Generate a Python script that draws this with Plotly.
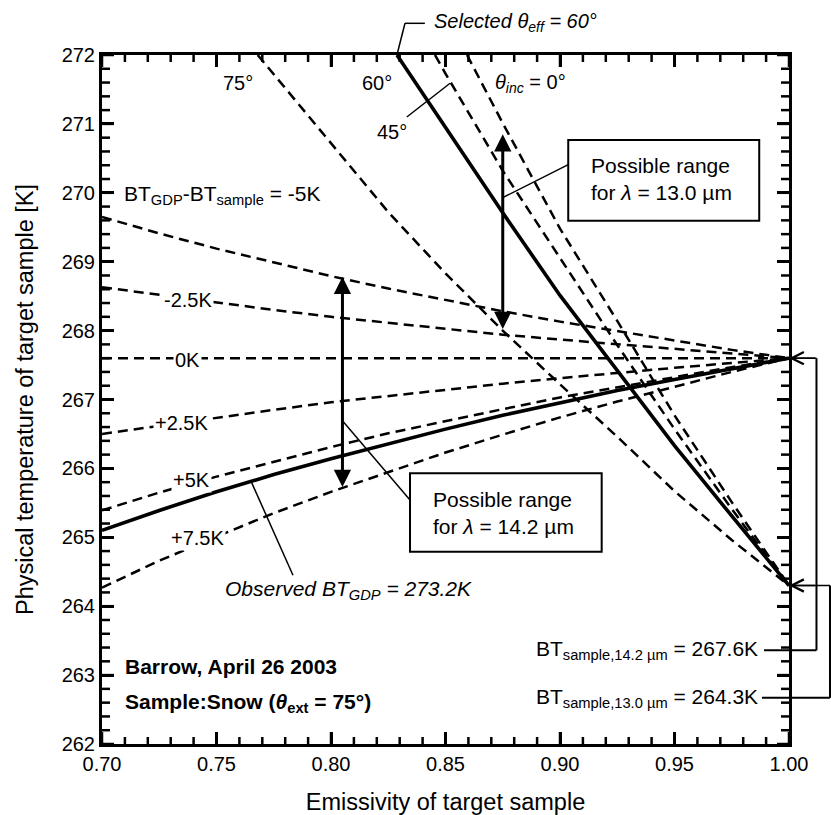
import plotly.graph_objects as go

# ---------------- data ----------------
eps = [0.70, 0.725, 0.75, 0.775, 0.80, 0.825, 0.85, 0.875, 0.90, 0.925, 0.95, 0.975, 1.00]

# BT_GDP - BT_sample families (converge to 267.6 K at emissivity 1)
diff_m5 = [269.65, 269.41, 269.19, 268.99, 268.79, 268.61, 268.44, 268.28, 268.13, 267.99, 267.85, 267.72, 267.60]
diff_m25 = [268.63, 268.52, 268.40, 268.30, 268.20, 268.11, 268.03, 267.94, 267.87, 267.80, 267.73, 267.66, 267.60]
diff_0 = [267.60] * 13
diff_p25 = [266.50, 266.62, 266.74, 266.85, 266.96, 267.05, 267.15, 267.23, 267.31, 267.39, 267.46, 267.53, 267.60]
diff_p5 = [265.39, 265.65, 265.88, 266.10, 266.31, 266.51, 266.69, 266.86, 267.03, 267.18, 267.33, 267.47, 267.60]
diff_p75 = [264.27, 264.66, 265.01, 265.35, 265.66, 265.95, 266.23, 266.49, 266.74, 266.97, 267.19, 267.40, 267.60]
observed = [265.10, 265.39, 265.66, 265.91, 266.14, 266.36, 266.57, 266.77, 266.95, 267.13, 267.29, 267.45, 267.60]

# incidence-angle family (converge to 264.3 K at emissivity 1)
ang75_x = [0.768, 0.775, 0.80, 0.825, 0.85, 0.875, 0.90, 0.925, 0.95, 0.975, 1.00]
ang75_y = [272.0, 271.72, 270.72, 269.72, 268.83, 268.00, 267.22, 266.46, 265.67, 264.96, 264.30]
ang60_x = [0.8288, 0.85, 0.875, 0.90, 0.925, 0.95, 0.975, 1.00]
ang60_y = [272.0, 270.94, 269.71, 268.51, 267.42, 266.33, 265.31, 264.30]
ang45_x = [0.8454, 0.85, 0.875, 0.90, 0.925, 0.95, 0.975, 1.00]
ang45_y = [272.0, 271.73, 270.32, 269.05, 267.79, 266.57, 265.41, 264.30]
ang0_x = [0.8594, 0.875, 0.90, 0.925, 0.95, 0.975, 1.00]
ang0_y = [272.0, 271.01, 269.48, 268.14, 266.77, 265.51, 264.30]

# possible-range arrows: [14.2 um, 13.0 um]
range_eps = [0.805, 0.875]
range_lo = [265.71, 268.00]
range_hi = [268.78, 270.85]

bt_sample = [267.6, 264.3]  # 14.2 um, 13.0 um

X_RANGE = [0.70, 1.00]
Y_RANGE = [262, 272]

# tick values
x_major_ticks = [0.70, 0.75, 0.80, 0.85, 0.90, 0.95, 1.00]
x_minor_ticks = [round(0.70 + 0.01 * i, 2) for i in range(31) if i % 5]
y_major_ticks = [262, 263, 264, 265, 266, 267, 268, 269, 270, 271, 272]
y_minor_ticks = [round(262 + 0.2 * i, 1) for i in range(51) if i % 5]

FONT = "Liberation Sans, Arial, Helvetica, sans-serif"
DASH = "10px,6px"

# plot-area size in pixels (for converting tick lengths)
MARGIN = dict(l=102, r=42, t=55, b=71)
PLOT_W = 831 - MARGIN["l"] - MARGIN["r"]
PLOT_H = 815 - MARGIN["t"] - MARGIN["b"]

fig = go.Figure()


def add_line(x, y, dashed=True, width=2.5):
    fig.add_trace(go.Scatter(
        x=x, y=y, mode="lines", showlegend=False, hoverinfo="skip",
        line=dict(color="black", width=width, dash=DASH if dashed else "solid")))


for ys in [diff_m5, diff_m25, diff_0, diff_p25, diff_p5, diff_p75]:
    add_line(eps, ys)
add_line(ang75_x, ang75_y)
add_line(ang45_x, ang45_y)
add_line(ang0_x, ang0_y)
add_line(eps, observed, dashed=False, width=3.6)
add_line(ang60_x, ang60_y, dashed=False, width=3.6)


# data -> paper helpers (for decorations that may sit outside the plot area)
def px_(x):
    return (x - X_RANGE[0]) / (X_RANGE[1] - X_RANGE[0])


def py_(y):
    return (y - Y_RANGE[0]) / (Y_RANGE[1] - Y_RANGE[0])


ann = []
shapes = []

# inward ticks on all four sides (drawn as shapes from the tick arrays)
for vals, ln in [(x_major_ticks, 12), (x_minor_ticks, 7)]:
    for v in vals:
        for base, sgn in [(0.0, 1), (1.0, -1)]:
            shapes.append(dict(type="line", xref="x", yref="paper", x0=v, x1=v,
                               y0=base, y1=base + sgn * ln / PLOT_H,
                               line=dict(color="black", width=2.5), layer="above"))
for vals, ln in [(y_major_ticks, 12), (y_minor_ticks, 8)]:
    for v in vals:
        for base, sgn in [(0.0, 1), (1.0, -1)]:
            shapes.append(dict(type="line", xref="paper", yref="y", y0=v, y1=v,
                               x0=base, x1=base + sgn * ln / PLOT_W,
                               line=dict(color="black", width=2.5), layer="above"))


def seg(x0, y0, x1, y1, width=1.5):
    shapes.append(dict(type="line", xref="paper", yref="paper",
                       x0=px_(x0), y0=py_(y0), x1=px_(x1), y1=py_(y1),
                       line=dict(color="black", width=width)))


def arrow(x0, y0, x1, y1, width=1.5, head=5, size=1.6):
    ann.append(dict(x=x1, y=y1, ax=x0, ay=y0, xref="x", yref="y", axref="x", ayref="y",
                    text="", showarrow=True, arrowhead=head, arrowwidth=width,
                    arrowsize=size, arrowcolor="black", standoff=0, startstandoff=0))


def label(x, y, text, size=20, xanchor="center", bg=None, paper=False, **kw):
    d = dict(x=px_(x) if paper else x, y=py_(y) if paper else y,
             xref="paper" if paper else "x", yref="paper" if paper else "y",
             text=text, showarrow=False,
             xanchor=xanchor, yanchor="middle", font=dict(size=size, color="black", family=FONT))
    if bg:
        d["bgcolor"] = bg
        d["borderpad"] = 1
    d.update(kw)
    ann.append(d)


# range arrows (double headed)
for e, lo, hi in zip(range_eps, range_lo, range_hi):
    ann.append(dict(x=e, y=hi, ax=e, ay=lo, xref="x", yref="y", axref="x", ayref="y",
                    text="", showarrow=True, arrowhead=2, startarrowhead=2,
                    arrowside="end+start", arrowwidth=3, arrowsize=1.15, startarrowsize=1.15,
                    arrowcolor="black", standoff=0, startstandoff=0))

# difference-family labels
label(0.7087, 269.97, "BT<sub>GDP</sub>-BT<sub>sample</sub> = -5K", size=21, xanchor="left")
label(0.7376, 268.44, "-2.5K", bg="white")
label(0.7375, 267.58, "0K", bg="white")
label(0.7345, 266.66, "+2.5K", bg="white")
label(0.739, 265.83, "+5K", bg="white")
label(0.7415, 264.99, "+7.5K", bg="white")

# angle labels
label(0.7592, 271.59, "75°")
label(0.8199, 271.59, "60°")
label(0.8266, 270.88, "45°")
label(0.8707, 271.59, "<i>θ<sub>inc</sub></i> = 0°", xanchor="left")
seg(0.8331, 271.10, 0.8520, 271.59)

# selected theta_eff leader (above the plot area)
seg(ang60_x[0], ang60_y[0], 0.8323, 272.46)
seg(0.8323, 272.46, 0.8410, 272.46)
label(0.8441, 272.47, "<i>Selected θ<sub>eff</sub> = 60°</i>", xanchor="left", paper=True)

# observed label and leader
label(0.7528, 264.24, "<i>Observed BT<sub>GDP</sub> = 273.2K</i>", size=21, xanchor="left")
seg(0.7834, 264.45, 0.7654, 265.79)

# possible-range boxes: (x0, x1, y0, y1, text_x, text_y, text)
boxes = [
    (0.9036, 0.9870, 269.595, 270.766, 0.9127, 270.20, "Possible range<br>for <i>λ</i> = 13.0 µm"),
    (0.8345, 0.9182, 264.791, 265.929, 0.8437, 265.36, "Possible range<br>for <i>λ</i> = 14.2 µm"),
]
for x0, x1, y0, y1, bx, by, txt in boxes:
    shapes.append(dict(type="rect", xref="x", yref="y", x0=x0, x1=x1, y0=y0, y1=y1,
                       line=dict(color="black", width=2), fillcolor="white", layer="above"))
    label(bx, by, txt, size=21, xanchor="left", align="left")
seg(0.9036, 270.41, range_eps[1], 269.93)
seg(0.8345, 265.54, range_eps[0], 266.69)

# BT sample labels and connectors on the right
label(0.9873, 263.36, "BT<sub>sample,14.2 µm</sub> = %.1fK" % bt_sample[0], size=21, xanchor="right", paper=True)
seg(0.9891, 263.36, 1.0120, 263.36, width=2)
seg(1.0120, 263.36, 1.0120, bt_sample[0], width=2)
seg(1.0120, bt_sample[0], 1.0, bt_sample[0], width=1.5)
arrow(1.0120, bt_sample[0], 1.0, bt_sample[0])

label(0.9873, 262.67, "BT<sub>sample,13.0 µm</sub> = %.1fK" % bt_sample[1], size=21, xanchor="right", paper=True)
seg(0.9882, 262.67, 1.0179, 262.67, width=2)
seg(1.0179, 262.67, 1.0179, bt_sample[1], width=2)
seg(1.0179, bt_sample[1], 1.0, bt_sample[1], width=1.5)
arrow(1.0120, bt_sample[1], 1.0, bt_sample[1])

# station info
label(0.7092, 263.13, "<b>Barrow, April 26 2003</b>", size=21, xanchor="left")
label(0.7092, 262.60, "<b>Sample:Snow (<i>θ</i><sub>ext</sub> = 75°)</b>", size=21, xanchor="left")

axis_common = dict(showline=True, linewidth=3, linecolor="black", mirror="allticks",
                   ticks="inside", ticklen=12, tickwidth=2.5, tickcolor="black",
                   showgrid=False, zeroline=False, automargin=False, layer="above traces",
                   tickfont=dict(size=20, color="black", family=FONT))

fig.update_layout(
    width=831, height=815,
    margin=MARGIN,
    paper_bgcolor="white", plot_bgcolor="white",
    font=dict(family=FONT, color="black"),
    annotations=ann,
    shapes=shapes,
    xaxis=dict(range=X_RANGE, tickvals=x_major_ticks, ticktext=["%.2f" % v for v in x_major_ticks],
               title=dict(text="Emissivity of target sample", font=dict(size=23.5, family=FONT), standoff=24),
               **axis_common),
    yaxis=dict(range=Y_RANGE, tickvals=y_major_ticks,
               title=dict(text="Physical temperature of target sample [K]", font=dict(size=23.5, family=FONT), standoff=22),
               **axis_common),
)

fig.write_html("out.html")
